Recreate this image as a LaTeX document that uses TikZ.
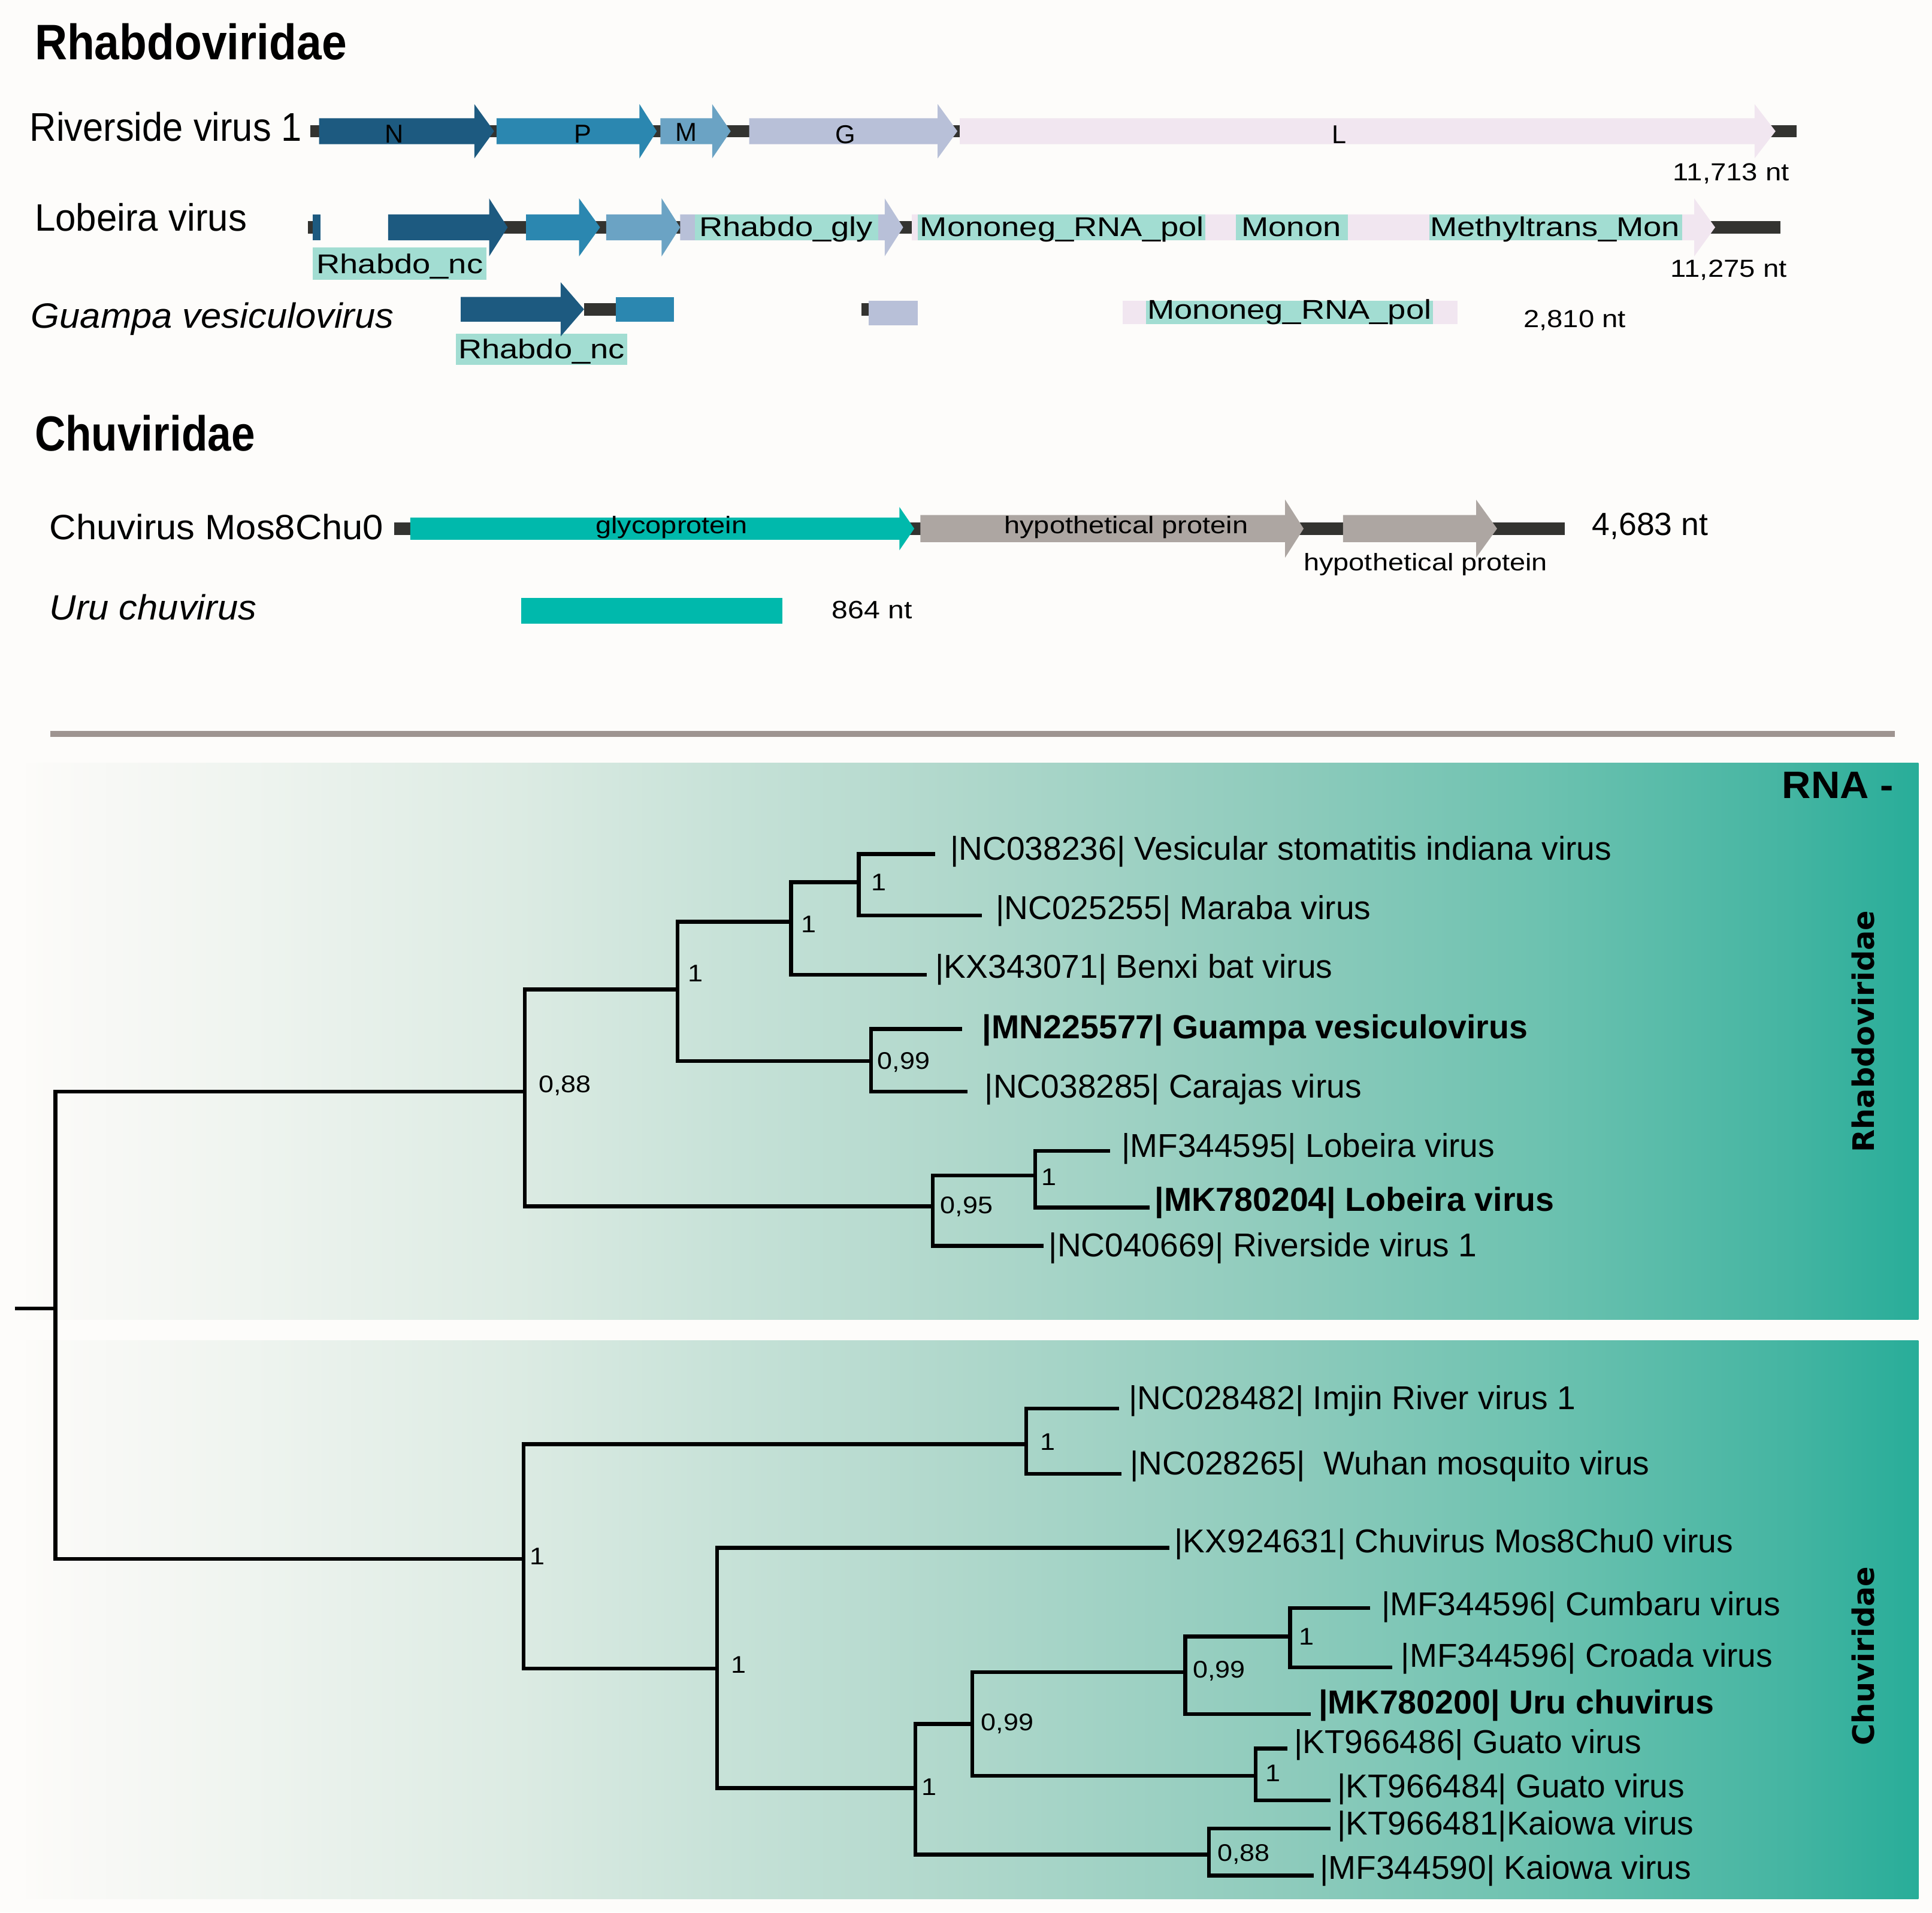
\documentclass[tikz,border=0pt]{standalone}
\usepackage{fontspec}
\setmainfont{Liberation Sans}
\newfontfamily\djv{DejaVu Sans}
\definecolor{bgc}{HTML}{FDFCFA}
\definecolor{Nc}{HTML}{1D5A80}
\definecolor{Pc}{HTML}{2B87B0}
\definecolor{Mc}{HTML}{6BA3C4}
\definecolor{Gc}{HTML}{B8C0D8}
\definecolor{Lc}{HTML}{F1E6F0}
\definecolor{bbc}{HTML}{333330}
\definecolor{domc}{HTML}{A2DDD2}
\definecolor{glyc}{HTML}{00B9AC}
\definecolor{hypc}{HTML}{ADA6A2}
\definecolor{sepc}{HTML}{9E9490}
\definecolor{g0}{HTML}{FCFBF9}
\definecolor{g1}{HTML}{F3F6F2}
\definecolor{g2}{HTML}{DCEBE3}
\definecolor{g3}{HTML}{B3D9CD}
\definecolor{g4}{HTML}{8ECBBC}
\definecolor{g5}{HTML}{6DC2B0}
\definecolor{g6}{HTML}{45B5A2}
\definecolor{g7}{HTML}{28AD99}
\newcommand\tf[2]{\fontsize{#1}{#1}\selectfont\addfontfeatures{FakeStretch=#2}}
\newcommand\gene[7]{\fill[#7] (#1,{#4-#5}) -- (#2,{#4-#5}) -- (#2,{#4-#6}) -- (#3,#4) -- (#2,{#4+#6}) -- (#2,{#4+#5}) -- (#1,{#4+#5}) -- cycle;}
\tikzset{
  lbl/.style={inner sep=0, anchor=base west},
  leaf/.style={inner sep=0, anchor=west, font=\tf{26.8}{1}},
  bleaf/.style={inner sep=0, anchor=west, font=\bfseries\tf{27}{1}},
  supp/.style={inner sep=0, anchor=west, font=\tf{19.5}{1.12}},
  br/.style={line width=3.1pt, black},
  dom/.style={inner sep=0, anchor=base, font=\tf{22}{1.2}},
  glab/.style={inner sep=0, font=\tf{21}{1}},
  ntl/.style={inner sep=0, font=\tf{20}{1.15}},
  chl/.style={inner sep=0, font=\tf{19.5}{1.17}},
}
\begin{document}
\begin{tikzpicture}[x=1pt,y=-1pt]
\useasboundingbox (0,0) rectangle (1568,1552);
\fill[bgc] (0,0) rectangle (1568,1552);

% ---------- tree panels ----------
\foreach \xa/\xb/\ca/\cb in {22/150/g0/g1,150/420/g1/g2,420/750/g2/g3,750/1045/g3/g4,1045/1250/g4/g5,1250/1450/g5/g6,1450/1557/g6/g7}{
  \shade[left color=\ca,right color=\cb] (\xa-0.4,619) rectangle (\xb,1071);
  \shade[left color=\ca,right color=\cb] (\xa-0.4,1088) rectangle (\xb,1541);
}

% ---------- headings ----------
\node[lbl, font=\bfseries\tf{40.5}{0.9}] (hR) at (28,48.5) {Rhabdoviridae};
\node[lbl, font=\bfseries\tf{40}{0.865}] (hC) at (28,366) {Chuviridae};

% ---------- genome names ----------
\node[lbl, font=\tf{32.5}{0.92}] (nRiv) at (24,114.5) {Riverside virus 1};
\node[lbl, font=\tf{31}{0.97}] (nLob) at (28,187.5) {Lobeira virus};
\node[lbl, font=\itshape\tf{28.5}{1.05}] (nGua) at (25,266) {Guampa vesiculovirus};
\node[lbl, font=\tf{28.5}{1.05}] (nChu) at (40,438) {Chuvirus Mos8Chu0};
\node[lbl, font=\itshape\tf{28.5}{1.05}] (nUru) at (40,503) {Uru chuvirus};

% ---------- Riverside virus 1 ----------
\fill[bbc] (252,101.5) rectangle (1458,111.5);
\gene{259}{385}{401}{106.5}{10.5}{22}{Nc}
\gene{403}{519}{533}{106.5}{10.5}{22}{Pc}
\gene{536}{578}{593}{106.5}{10.5}{22}{Mc}
\gene{608}{761}{777}{106.5}{10.5}{22}{Gc}
\gene{779}{1424}{1441}{106.5}{10.5}{22}{Lc}
\node[glab] (gN) at (320,108.5) {N};
\node[glab] (gP) at (473,108.5) {P};
\node[glab] (gM) at (557,107.5) {M};
\node[glab] (gG) at (686,109) {G};
\node[glab] (gL) at (1087,109) {L};
\node[ntl] (ntR) at (1405,141) {11,713 nt};

% ---------- Lobeira virus ----------
\fill[bbc] (250,179.5) rectangle (260,189.5);
\fill[bbc] (315,179.5) rectangle (1445,189.5);
\fill[domc] (254,201) rectangle (395,227);
\fill[Nc] (254,174) rectangle (260,195);
\gene{315}{397}{412}{184.5}{10.5}{23.5}{Nc}
\gene{427}{470}{487}{184.5}{10.5}{23.5}{Pc}
\gene{552}{718}{733}{184.5}{10.5}{23.5}{Gc}
\gene{492}{537}{552}{184.5}{10.5}{23.5}{Mc}
\gene{740}{1375}{1392}{184.5}{10.5}{23.5}{Lc}
\fill[domc] (564,174) rectangle (713,195);
\fill[domc] (745,174) rectangle (978,195);
\fill[domc] (1003,174) rectangle (1094,195);
\fill[domc] (1160,174) rectangle (1365,195);
\node[dom] (dL1) at (638,192) {Rhabdo\_gly};
\node[dom] (dL2) at (862,192) {Mononeg\_RNA\_pol};
\node[dom] (dL3) at (1048,192) {Monon};
\node[dom] (dL4) at (1262,192) {Methyltrans\_Mon};
\node[dom] (dL5) at (324.5,222) {Rhabdo\_nc};
\node[ntl] (ntL) at (1403,219) {11,275 nt};

% ---------- Guampa vesiculovirus ----------
\fill[domc] (370,271) rectangle (509,296);
\fill[bbc] (474,246) rectangle (500,256);
\gene{374}{455}{474}{251}{10}{22}{Nc}
\fill[Pc] (500,241) rectangle (547,261);
\fill[bbc] (699,246) rectangle (705,256);
\fill[Gc] (705,244) rectangle (745,264);
\fill[Lc] (911,244) rectangle (1183,263);
\fill[domc] (930,244) rectangle (1163,263);
\node[dom] (dG1) at (439.5,291) {Rhabdo\_nc};
\node[dom] (dG2) at (1046.5,259) {Mononeg\_RNA\_pol};
\node[ntl] (ntG) at (1278,260) {2,810 nt};

% ---------- Chuvirus Mos8Chu0 ----------
\fill[bbc] (320,424) rectangle (1270,434);
\gene{333}{730}{742}{429}{9}{17.5}{glyc}
\gene{747}{1043}{1058}{429}{11}{23.5}{hypc}
\gene{1090}{1198}{1215}{429}{11}{23.5}{hypc}
\node[chl] (cg) at (545,428) {glycoprotein};
\node[chl] (ch1) at (914,428) {hypothetical protein};
\node[chl] (ch2) at (1157,458) {hypothetical protein};
\node[inner sep=0, anchor=west, font=\tf{26}{1}] (ntC) at (1292,427) {4,683 nt};

% ---------- Uru chuvirus ----------
\fill[glyc] (423,485) rectangle (635,506);
\node[inner sep=0, anchor=west, font=\tf{20.4}{1.15}] (ntU) at (675,495) {864 nt};

% ---------- separator ----------
\fill[sepc] (41,593) rectangle (1538,598);

% ---------- panel labels ----------
\node[inner sep=0, anchor=east, font=\bfseries\tf{31}{1.05}] (rna) at (1537,637) {RNA -};
\node[rotate=90, inner sep=0, font=\djv\bfseries\fontsize{24}{24}\selectfont] (vR) at (1512,837) {Rhabdoviridae};
\node[rotate=90, inner sep=0, font=\djv\bfseries\fontsize{24}{24}\selectfont] (vC) at (1512,1344) {Chuviridae};

% ---------- tree: coordinates ----------
\coordinate (r0) at (12,1062);
\coordinate (r) at (45,1062);
\coordinate (A) at (426,886);
\coordinate (B) at (550,803);
\coordinate (C) at (642,748);
\coordinate (D) at (697,716);
\coordinate (E) at (707,861);
\coordinate (F) at (757,979);
\coordinate (G) at (840,954);
\coordinate (l1) at (759,693);
\coordinate (l2) at (797,743);
\coordinate (l3) at (752,791);
\coordinate (l4) at (781,835);
\coordinate (l5) at (785,886);
\coordinate (l6) at (901,934);
\coordinate (l7) at (933,980);
\coordinate (l8) at (847,1011);
\coordinate (H) at (425,1265);
\coordinate (I) at (833,1172);
\coordinate (J) at (582,1354);
\coordinate (K) at (743,1451);
\coordinate (Lq) at (789,1399);
\coordinate (M) at (962,1357);
\coordinate (Nn) at (1047,1328);
\coordinate (O) at (1019,1441);
\coordinate (Pq) at (981,1505);
\coordinate (m1) at (908,1143);
\coordinate (m2) at (910,1196);
\coordinate (m3) at (949,1256);
\coordinate (m4) at (1112,1305);
\coordinate (m5) at (1130,1353);
\coordinate (m6) at (1064,1391);
\coordinate (m7) at (1045,1419);
\coordinate (m8) at (1080,1461);
\coordinate (m9) at (1080,1484);
\coordinate (m10) at (1066,1522);

% ---------- tree: branches ----------
\draw[br] (r0) -- (r);
\draw[br] (r) |- (A);
\draw[br] (r) |- (H);
\draw[br] (A) |- (B);
\draw[br] (A) |- (F);
\draw[br] (B) |- (C);
\draw[br] (B) |- (E);
\draw[br] (C) |- (D);
\draw[br] (C) |- (l3);
\draw[br] (D) |- (l1);
\draw[br] (D) |- (l2);
\draw[br] (E) |- (l4);
\draw[br] (E) |- (l5);
\draw[br] (F) |- (G);
\draw[br] (F) |- (l8);
\draw[br] (G) |- (l6);
\draw[br] (G) |- (l7);
\draw[br] (H) |- (I);
\draw[br] (H) |- (J);
\draw[br] (I) |- (m1);
\draw[br] (I) |- (m2);
\draw[br] (J) |- (m3);
\draw[br] (J) |- (K);
\draw[br] (K) |- (Lq);
\draw[br] (K) |- (Pq);
\draw[br] (Lq) |- (M);
\draw[br] (Lq) |- (O);
\draw[br] (M) |- (Nn);
\draw[br] (M) |- (m6);
\draw[br] (Nn) |- (m4);
\draw[br] (Nn) |- (m5);
\draw[br] (O) |- (m7);
\draw[br] (O) |- (m8);
\draw[br] (Pq) |- (m9);
\draw[br] (Pq) |- (m10);

% ---------- tree: leaf labels ----------
\node[leaf] (t1) at (771,691) {|NC038236| Vesicular stomatitis indiana virus};
\node[leaf] (t2) at (808,739) {|NC025255| Maraba virus};
\node[leaf] (t3) at (759,787) {|KX343071| Benxi bat virus};
\node[bleaf] (t4) at (797,836) {|MN225577| Guampa vesiculovirus};
\node[leaf] (t5) at (799,884) {|NC038285| Carajas virus};
\node[leaf] (t6) at (910,932) {|MF344595| Lobeira virus};
\node[bleaf] (t7) at (937,976) {|MK780204| Lobeira virus};
\node[leaf] (t8) at (851,1013) {|NC040669| Riverside virus 1};
\node[leaf] (u1) at (916,1137) {|NC028482| Imjin River virus 1};
\node[leaf] (u2) at (917,1190) {|NC028265|\ \ Wuhan mosquito virus};
\node[leaf] (u3) at (953,1253) {|KX924631| Chuvirus Mos8Chu0 virus};
\node[leaf] (u4) at (1121,1304) {|MF344596| Cumbaru virus};
\node[leaf] (u5) at (1137,1346) {|MF344596| Croada virus};
\node[bleaf] (u6) at (1070,1384) {|MK780200| Uru chuvirus};
\node[leaf] (u7) at (1050,1416) {|KT966486| Guato virus};
\node[leaf] (u8) at (1085,1452) {|KT966484| Guato virus};
\node[leaf] (u9) at (1085,1482) {|KT966481|Kaiowa virus};
\node[leaf] (u10) at (1071,1518) {|MF344590| Kaiowa virus};

% ---------- tree: support values ----------
\node[supp] (s1) at (437,881) {0,88};
\node[supp] (s2) at (558,790) {1};
\node[supp] (s3) at (650,750) {1};
\node[supp] (s4) at (707,716) {1};
\node[supp] (s5) at (712,862) {0,99};
\node[supp] (s6) at (763,979) {0,95};
\node[supp] (s7) at (845,955) {1};
\node[supp] (s8) at (430,1263) {1};
\node[supp] (s9) at (844,1170) {1};
\node[supp] (s10) at (593,1351) {1};
\node[supp] (s11) at (748,1450) {1};
\node[supp] (s12) at (796,1399) {0,99};
\node[supp] (s13) at (968,1356) {0,99};
\node[supp] (s14) at (1054,1328) {1};
\node[supp] (s15) at (1027,1439) {1};
\node[supp] (s16) at (988,1505) {0,88};
\end{tikzpicture}
\end{document}
